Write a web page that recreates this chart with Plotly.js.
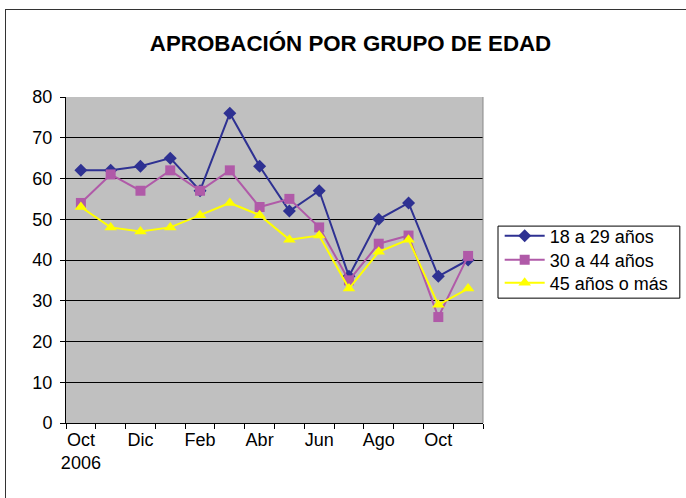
<!DOCTYPE html>
<html>
<head>
<meta charset="utf-8">
<script src="https://cdn.plot.ly/plotly-3.0.1.min.js"></script>
<style>
html,body{margin:0;padding:0;background:#fff;}
#wrap{position:relative;width:686px;height:498px;overflow:hidden;}
#chart{width:686px;height:498px;}
#frame{position:absolute;left:5px;top:9px;width:720px;height:520px;border:1px solid #333;pointer-events:none;}
</style>
</head>
<body>
<div id="wrap"><div id="chart"></div><div id="frame"></div></div>
<script>
const months = ['Oct 2006','Nov','Dic','Ene','Feb','Mar','Abr','May','Jun','Jul','Ago','Sep','Oct','Nov'];
const tickLabels = ['Oct<br>2006','Dic','Feb','Abr','Jun','Ago','Oct'];
const seriesNames = ['18 a 29 años','30 a 44 años','45 años o más'];
const age18to29 = [62,62,63,65,57,76,63,52,57,36,50,54,36,40];
const age30to44 = [54,61,57,62,57,62,53,55,48,35,44,46,26,41];
const age45plus = [53,48,47,48,51,54,51,45,46,33,42,45,29,33];

const xIdx = months.map((_, i) => i);
const tickIdx = xIdx.filter(i => i % 2 === 0);

const font = 'Liberation Sans, Arial, sans-serif';
const legendIds = ['legend', 'legend2', 'legend3'];
const traces = [
  {name: seriesNames[0], y: age18to29, color: '#2E3192', symbol: 'diamond', size: 10},
  {name: seriesNames[1], y: age30to44, color: '#B05AA8', symbol: 'square', size: 10},
  {name: seriesNames[2], y: age45plus, color: '#FFFF00', symbol: 'triangle-up', size: 11}
].map((s, i) => ({
  type: 'scatter', mode: 'lines+markers', name: s.name, legend: legendIds[i],
  x: xIdx, y: s.y, text: months, hovertemplate: '%{text}: %{y}<extra>' + s.name + '</extra>',
  line: {color: s.color, width: 2},
  marker: {color: s.color, symbol: s.symbol, size: s.size}
}));

const legendRowsY = [0.5736, 0.5, 0.4294];
const legendBase = {x: 1.04, xanchor: 'left', yanchor: 'middle', borderwidth: 0,
  bgcolor: 'rgba(0,0,0,0)', font: {family: font, size: 18, color: '#000'}, itemwidth: 40};

const layout = {
  width: 686, height: 498,
  margin: {l: 66, r: 203, t: 97, b: 75},
  paper_bgcolor: '#ffffff',
  plot_bgcolor: '#C0C0C0',
  font: {family: font, size: 18, color: '#000'},
  title: {text: '<b>APROBACIÓN POR GRUPO DE EDAD</b>', font: {family: font, size: 22.3, color: '#000'},
          x: 0.511, xref: 'container', xanchor: 'center', y: 0.913, yref: 'container', yanchor: 'middle'},
  showlegend: true,
  legend: Object.assign({}, legendBase, {y: legendRowsY[0]}),
  legend2: Object.assign({}, legendBase, {y: legendRowsY[1]}),
  legend3: Object.assign({}, legendBase, {y: legendRowsY[2]}),
  xaxis: {
    range: [-0.5, 13.5], tickmode: 'array', tickvals: tickIdx, ticktext: tickLabels,
    ticks: '', showgrid: false, zeroline: false, showline: true, linecolor: '#000', linewidth: 1,
    tickfont: {family: font, size: 18, color: '#000'},
    minor: {tickmode: 'linear', tick0: -0.5, dtick: 1, ticks: 'outside', ticklen: 5, tickcolor: '#000', tickwidth: 1, showgrid: false},
    fixedrange: true
  },
  yaxis: {
    range: [0, 80], dtick: 10, ticks: 'outside', ticklen: 5, tickcolor: '#000',
    showgrid: true, gridcolor: '#000', gridwidth: 1, zeroline: false,
    showline: true, linecolor: '#000', linewidth: 1, ticklabelstandoff: 4,
    tickfont: {family: font, size: 18, color: '#000'}, fixedrange: true
  },
  shapes: [
    {type: 'line', xref: 'paper', yref: 'paper', x0: 1, x1: 1, y0: 0, y1: 1, line: {color: '#888', width: 1}},
    {type: 'rect', xref: 'paper', yref: 'paper', x0: 1.036, x1: 1.472, y0: 0.383, y1: 0.604, line: {color: '#000', width: 1}, fillcolor: 'rgba(0,0,0,0)'}
  ]
};

Plotly.newPlot('chart', traces, layout, {displayModeBar: false});
</script>
</body>
</html>
